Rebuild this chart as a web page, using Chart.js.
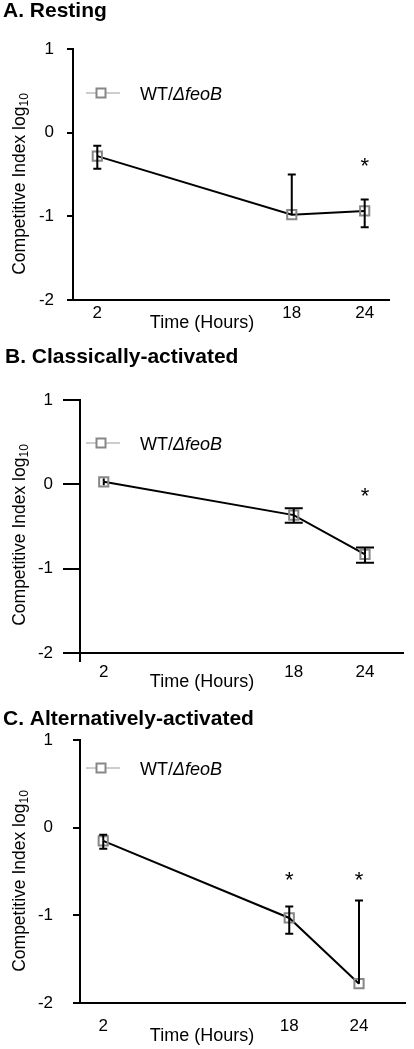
<!DOCTYPE html>
<html>
<head>
<meta charset="utf-8">
<script src="https://cdn.jsdelivr.net/npm/chart.js@4/dist/chart.umd.min.js"></script>
<style>
  html, body { margin: 0; padding: 0; background: #fff; }
  #wrap { position: relative; width: 414px; height: 1049px; overflow: hidden; background: #fff; }
  #wrap canvas { position: absolute; left: 0; top: 0; }
</style>
</head>
<body>
<div id="wrap">
  <canvas id="cA" width="414" height="1049"></canvas>
  <canvas id="cB" width="414" height="1049"></canvas>
  <canvas id="cC" width="414" height="1049"></canvas>
</div>
<script>
// ---------- data ----------
const hours = [2, 18, 24];
const xTickLabels = [2, 18, 24];
const yTickLabels = [-2, -1, 0, 1];
const panelTitles = ['A. Resting', 'B. Classically-activated', 'C. Alternatively-activated'];
const seriesName = ['WT/', '\u0394feoB'];
const xAxisTitle = 'Time (Hours)';
const yAxisTitle = ['Competitive Index log', '10'];

// Panel A (resting)
const ciA = [-0.28, -0.98, -0.935];
const upA = [-0.155, -0.50, -0.80];
const lowA = [-0.43, null, -1.13];
const starA = [null, null, -0.36];

// Panel B (classically-activated)
const ciB = [0.03, -0.365, -0.83];
const upB = [0.07, -0.285, -0.75];
const lowB = [-0.01, -0.455, -0.93];
const starB = [null, null, -0.10];

// Panel C (alternatively-activated)
const ciC = [-0.15, -1.03, -1.78];
const upC = [-0.08, -0.90, -0.83];
const lowC = [-0.24, -1.21, null];
const starC = [null, -0.56, -0.56];

// ---------- styling ----------
const FONT = "'Liberation Sans', Arial, Helvetica, sans-serif";
Chart.defaults.font.family = FONT;
Chart.defaults.color = '#000';
const MARK = '#878787';

const deco = {
  id: 'deco',
  afterDatasetsDraw(chart, args, o) {
    const ctx = chart.ctx, xs = chart.scales.x, ys = chart.scales.y;
    ctx.save();
    ctx.strokeStyle = '#000';
    ctx.lineWidth = 2;
    hours.forEach((h, i) => {
      const px = xs.getPixelForValue(h);
      const py = ys.getPixelForValue(o.vals[i]);
      [o.up[i], o.low[i]].forEach(v => {
        if (v == null) return;
        const pv = ys.getPixelForValue(v);
        ctx.beginPath();
        ctx.moveTo(px, py); ctx.lineTo(px, pv);
        // caps hidden when they fall inside the marker
        if (Math.abs(pv - py) > 5) {
          ctx.moveTo(px - o.cap / 2, pv); ctx.lineTo(px + o.cap / 2, pv);
        }
        ctx.stroke();
      });
    });
    ctx.restore();
  },
  afterDraw(chart, args, o) {
    const ctx = chart.ctx, xs = chart.scales.x, ys = chart.scales.y, ca = chart.chartArea;
    ctx.save();
    // y axis extension below x axis
    if (o.yExt) {
      ctx.strokeStyle = '#000'; ctx.lineWidth = 2;
      ctx.beginPath(); ctx.moveTo(ca.left, ca.bottom); ctx.lineTo(ca.left, ca.bottom + o.yExt); ctx.stroke();
    }
    // asterisks
    ctx.fillStyle = '#000';
    ctx.font = '22px ' + FONT;
    ctx.textAlign = 'center';
    ctx.textBaseline = 'middle';
    hours.forEach((h, i) => {
      if (o.stars[i] == null) return;
      ctx.fillText('*', xs.getPixelForValue(h), ys.getPixelForValue(o.stars[i]) + 4);
    });
    // panel title
    ctx.textAlign = 'left';
    ctx.textBaseline = 'alphabetic';
    ctx.font = 'bold 21px ' + FONT;
    ctx.fillText(o.title, o.titleX, o.titleY);
    // legend
    ctx.strokeStyle = '#9a9a9a'; ctx.lineWidth = 1;
    ctx.beginPath(); ctx.moveTo(86, o.legY); ctx.lineTo(120, o.legY); ctx.stroke();
    ctx.fillStyle = '#fff';
    ctx.fillRect(96.5, o.legY - 4.5, 9, 9);
    ctx.strokeStyle = MARK; ctx.lineWidth = 2;
    ctx.strokeRect(96.5, o.legY - 4.5, 9, 9);
    ctx.fillStyle = '#000';
    ctx.textBaseline = 'alphabetic';
    ctx.font = '18px ' + FONT;
    ctx.fillText(seriesName[0], 140, o.legY + 6.5);
    const w0 = ctx.measureText(seriesName[0]).width;
    ctx.font = 'italic 18px ' + FONT;
    ctx.fillText(seriesName[1], 140 + w0, o.legY + 6.5);
    // x axis title
    ctx.font = '18px ' + FONT;
    ctx.textAlign = 'center';
    ctx.textBaseline = 'middle';
    ctx.fillText(xAxisTitle, o.xtX, o.xtY);
    // y axis title (rotated, with subscript)
    ctx.translate(o.ytX, o.ytY);
    ctx.rotate(-Math.PI / 2);
    ctx.font = '17.5px ' + FONT;
    const m1 = ctx.measureText(yAxisTitle[0]).width;
    ctx.font = '12px ' + FONT;
    const m2 = ctx.measureText(yAxisTitle[1]).width;
    const start = -(m1 + m2) / 2;
    ctx.textAlign = 'left';
    ctx.font = '17.5px ' + FONT;
    ctx.fillText(yAxisTitle[0], start, 0);
    ctx.font = '12px ' + FONT;
    ctx.fillText(yAxisTitle[1], start + m1, 5);
    ctx.restore();
  }
};

function makeChart(id, vals, up, low, stars, p) {
  return new Chart(document.getElementById(id), {
    type: 'line',
    data: {
      datasets: [{
        data: hours.map((h, i) => ({ x: h, y: vals[i] })),
        borderColor: '#000',
        borderWidth: 2,
        tension: 0,
        pointStyle: 'rect',
        pointRadius: 6.5,
        pointHoverRadius: 6.5,
        pointBorderColor: MARK,
        pointBackgroundColor: 'rgba(255,255,255,0)',
        pointBorderWidth: 2,
        clip: false
      }]
    },
    options: {
      responsive: false,
      animation: false,
      devicePixelRatio: 1,
      events: [],
      layout: { padding: { left: 0, top: p.top, right: 414 - p.right, bottom: 0 } },
      plugins: {
        legend: { display: false },
        tooltip: { enabled: false },
        deco: Object.assign({ vals, up, low, stars }, p)
      },
      scales: {
        x: {
          type: 'linear',
          min: 0, max: p.xmax,
          afterBuildTicks: s => { s.ticks = xTickLabels.map(v => ({ value: v })); },
          afterFit: s => { s.height = 1049 - p.bottom; },
          grid: { display: false, drawTicks: false },
          border: { display: true, color: '#000', width: 2 },
          ticks: { font: { size: 17, lineHeight: 1.2 }, color: '#000', padding: p.xPad, maxRotation: 0, autoSkip: false }
        },
        y: {
          min: -2, max: 1,
          afterBuildTicks: s => { s.ticks = yTickLabels.map(v => ({ value: v })); },
          afterFit: s => { s.width = p.left; },
          grid: { drawOnChartArea: false, drawTicks: true, tickLength: p.tickLen, color: '#000', lineWidth: 2 },
          border: { display: true, color: '#000', width: 2 },
          ticks: { font: { size: 17, lineHeight: 1.2 }, color: '#000', padding: p.yPad }
        }
      }
    },
    plugins: [deco]
  });
}

makeChart('cA', ciA, upA, lowA, starA, {
  left: 73, right: 389, top: 49, bottom: 300, xmax: 26, tickLen: 6, yPad: 13, xPad: 3, cap: 8, yExt: 0,
  title: panelTitles[0], titleX: 3, titleY: 17, legY: 93, xtX: 202, xtY: 323, ytX: 20, ytY: 184
});
makeChart('cB', ciB, upB, lowB, starB, {
  left: 80, right: 403, top: 400, bottom: 653, xmax: 27.2, tickLen: 17, yPad: 10, xPad: 9, cap: 18, yExt: 9,
  title: panelTitles[1], titleX: 5, titleY: 363, legY: 443, xtX: 202, xtY: 682, ytX: 20, ytY: 535
});
makeChart('cC', ciC, upC, lowC, starC, {
  left: 80, right: 414, top: 740, bottom: 1003, xmax: 28, tickLen: 7, yPad: 20, xPad: 13, cap: 8, yExt: 0,
  title: panelTitles[2], titleX: 3, titleY: 725, legY: 768, xtX: 202, xtY: 1036, ytX: 20, ytY: 881
});
</script>
</body>
</html>
